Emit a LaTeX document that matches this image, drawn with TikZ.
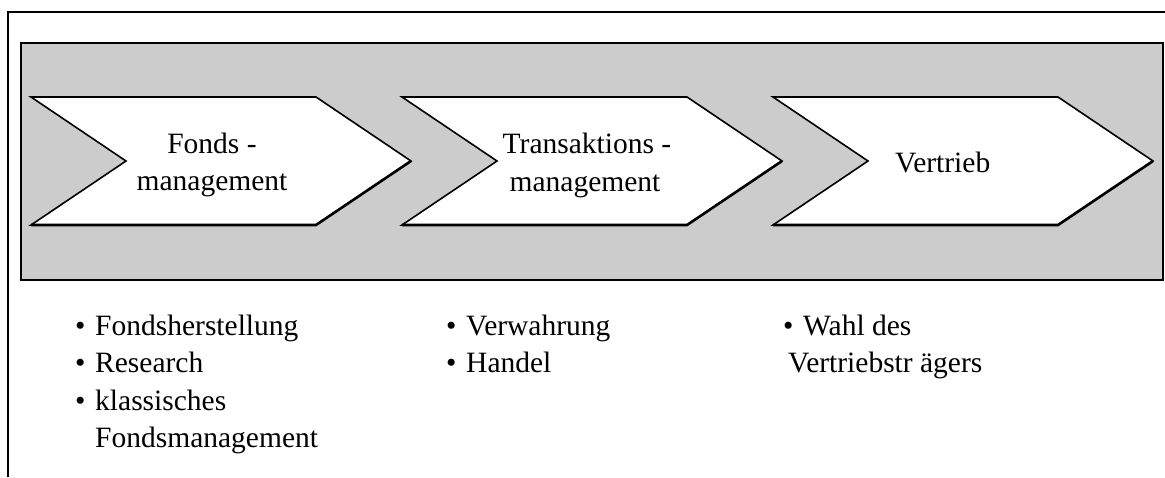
\documentclass[tikz,border=0pt]{standalone}
\usepackage{fontspec}
\setmainfont{Liberation Serif}
\definecolor{boxgray}{HTML}{CCCCCC}
\tikzset{
  chev/.style={fill=white,draw=black,line width=1.6pt,line join=miter},
  chevshade/.style={draw=black,line width=2.6pt,line cap=butt},
  ctext/.style={font=\fontsize{29.5}{37}\selectfont,inner sep=0pt,anchor=base},
  ltext/.style={font=\fontsize{29.5}{37}\selectfont,inner sep=0pt,anchor=base west},
}
\begin{document}
\begin{tikzpicture}[x=1pt,y=-1pt]
\useasboundingbox (0,0) rectangle (1165,477);
% outer frame (partly outside)
\draw[line width=1.6pt] (8,477) -- (8,12) -- (1165,12);
% gray band
\fill[boxgray] (21,43) rectangle (1163,280);
\draw[line width=1.4pt] (21,280) -- (21,43) -- (1163,43);
\draw[line width=2.8pt] (1163,42.3) -- (1163,280) -- (20.3,280);
% chevrons
\foreach \xl in {31,402,773}{
  \draw[chev] (\xl,97) -- ++(285,0) -- ++(95,64) -- ++(-95,64) -- ++(-285,0) -- ++(95,-64) -- cycle;
  \draw[chevshade] (\xl+380,161) -- ++(-95,64) -- ++(-285,0);
}
% chevron labels
\node[ctext] (c1a) at (212,153) {Fonds -};
\node[ctext] (c1b) at (212,190) {management};
\node[ctext] (c2a) at (587,153) {Transaktions -};
\node[ctext] (c2b) at (585,191) {management};
\node[ltext] (c3a) at (895,172) {Vertrieb};
% lists
\node[ltext] (b1) at (75,335) {•};
\node[ltext] (l1) at (95,335) {Fondsherstellung};
\node[ltext] (b2) at (75,372) {•};
\node[ltext] (l2) at (95,372) {Research};
\node[ltext] (b3) at (75,410) {•};
\node[ltext] (l3) at (95,410) {klassisches};
\node[ltext] (l4) at (95,447) {Fondsmanagement};
\node[ltext] (b5) at (446,335) {•};
\node[ltext] (l5) at (466,335) {Verwahrung};
\node[ltext] (b6) at (446,372) {•};
\node[ltext] (l6) at (466,372) {Handel};
\node[ltext] (b7) at (783,335) {•};
\node[ltext] (l7) at (803,335) {Wahl des};
\node[ltext] (l8) at (788,372) {Vertriebstr ägers};
\end{tikzpicture}
\end{document}
